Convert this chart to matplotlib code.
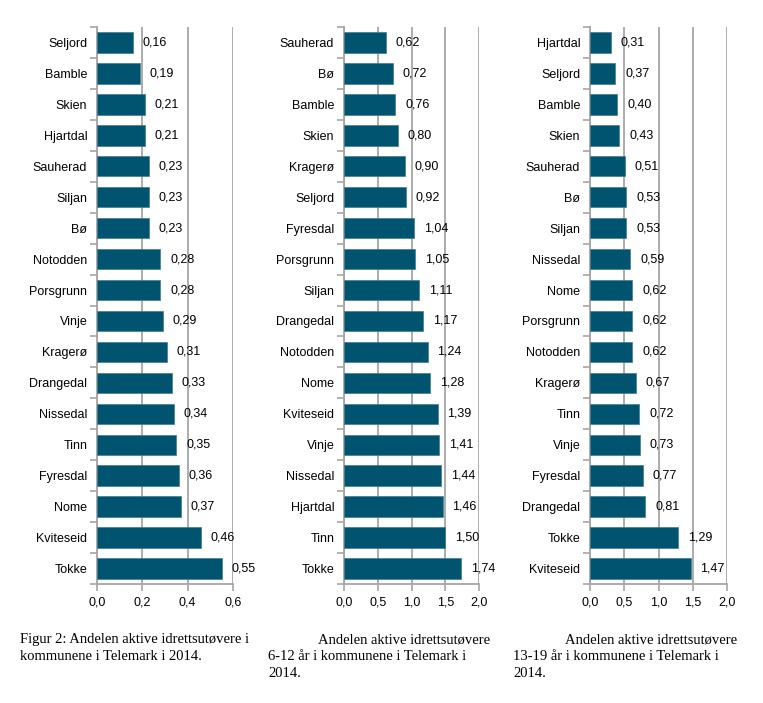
import matplotlib
matplotlib.use("Agg")
import matplotlib.pyplot as plt
from matplotlib.ticker import FixedLocator

plt.rcParams['font.family'] = ['Liberation Sans', 'DejaVu Sans']

cats1 = ["Seljord", "Bamble", "Skien", "Hjartdal", "Sauherad", "Siljan", "Bø", "Notodden",
         "Porsgrunn", "Vinje", "Kragerø", "Drangedal", "Nissedal", "Tinn", "Fyresdal", "Nome",
         "Kviteseid", "Tokke"]
vals1 = [0.16, 0.19, 0.21, 0.21, 0.23, 0.23, 0.23, 0.28, 0.28, 0.29, 0.31, 0.33, 0.34, 0.35,
         0.36, 0.37, 0.46, 0.55]

cats2 = ["Sauherad", "Bø", "Bamble", "Skien", "Kragerø", "Seljord", "Fyresdal", "Porsgrunn",
         "Siljan", "Drangedal", "Notodden", "Nome", "Kviteseid", "Vinje", "Nissedal", "Hjartdal",
         "Tinn", "Tokke"]
vals2 = [0.62, 0.72, 0.76, 0.80, 0.90, 0.92, 1.04, 1.05, 1.11, 1.17, 1.24, 1.28, 1.39, 1.41,
         1.44, 1.46, 1.50, 1.74]

cats3 = ["Hjartdal", "Seljord", "Bamble", "Skien", "Sauherad", "Bø", "Siljan", "Nissedal",
         "Nome", "Porsgrunn", "Notodden", "Kragerø", "Tinn", "Vinje", "Fyresdal", "Drangedal",
         "Tokke", "Kviteseid"]
vals3 = [0.31, 0.37, 0.40, 0.43, 0.51, 0.53, 0.53, 0.59, 0.62, 0.62, 0.62, 0.67, 0.72, 0.73,
         0.77, 0.81, 1.29, 1.47]

xticks1 = [0.0, 0.2, 0.4, 0.6]
xticks2 = [0.0, 0.5, 1.0, 1.5, 2.0]
xticks3 = [0.0, 0.5, 1.0, 1.5, 2.0]

captions = [
    ["Figur 2: Andelen aktive idrettsutøvere i", "kommunene i Telemark i 2014."],
    ["Andelen aktive idrettsutøvere", "6-12 år i kommunene i Telemark i", "2014."],
    ["Andelen aktive idrettsutøvere", "13-19 år i kommunene i Telemark i", "2014."],
]

BAR = "#005470"
GRID = "#a6a6a6"
W, H = 763, 703

fig = plt.figure(figsize=(W / 100, H / 100), dpi=100)

panels = [
    (cats1, vals1, xticks1, 97, 233),
    (cats2, vals2, xticks2, 344, 479),
    (cats3, vals3, xticks3, 590, 727),
]
top_px, bot_px = 27, 584

for (cats, vals, xt, x0, x1) in panels:
    ax = fig.add_axes([x0 / W, 1 - bot_px / H, (x1 - x0) / W, (bot_px - top_px) / H])
    n = len(cats)
    ypos = list(range(n))
    ax.barh(ypos, vals, height=0.66, color=BAR, edgecolor="#3f7d90", linewidth=0.5, zorder=3)
    ax.set_ylim(n - 0.5, -0.5)
    ax.set_xlim(xt[0], xt[-1])
    ax.set_xticks(xt)
    ax.set_xticklabels([f"{t:.1f}".replace(".", ",") for t in xt], fontsize=9)
    ax.set_yticks(ypos)
    ax.set_yticklabels(cats, fontsize=9)
    ax.yaxis.set_minor_locator(FixedLocator([i - 0.5 for i in range(n + 1)]))
    ax.tick_params(axis="y", which="major", length=0, pad=7)
    ax.tick_params(axis="y", which="minor", length=5, color=GRID, width=1.2)
    ax.tick_params(axis="x", which="major", length=5, color=GRID, width=1.2, pad=4)
    ax.grid(axis="x", color=GRID, linewidth=1.3, zorder=0)
    for s in ["top", "right"]:
        ax.spines[s].set_visible(False)
    for s in ["left", "bottom"]:
        ax.spines[s].set_color(GRID)
        ax.spines[s].set_linewidth(1.3)
    for y, v in zip(ypos, vals):
        ax.annotate(f"{v:.2f}".replace(".", ","), xy=(v, y), xytext=(7, 0),
                    textcoords="offset points", va="center", ha="left", fontsize=9,
                    zorder=4)

cap_first_x = [20, 318, 565]
cap_x = [20, 268, 513]
for fx, cx, lines in zip(cap_first_x, cap_x, captions):
    for i, line in enumerate(lines):
        fig.text((fx if i == 0 else cx) / W, 1 - (643 + 17 * i) / H, line, fontsize=10.5,
                 family=["Liberation Serif", "DejaVu Serif"], va="baseline", ha="left")

fig.savefig("out.png", dpi=100)
